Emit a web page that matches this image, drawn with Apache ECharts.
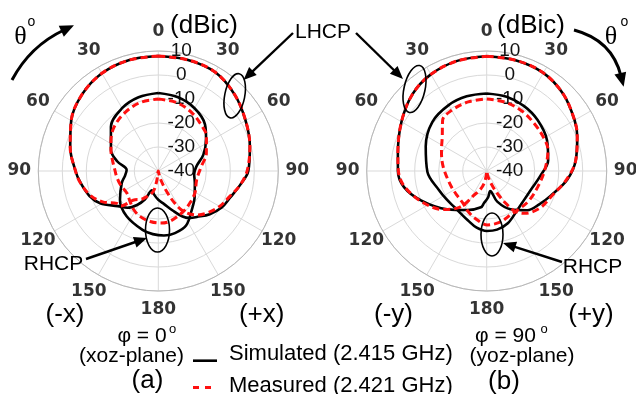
<!DOCTYPE html>
<html>
<head>
<meta charset="utf-8">
<script src="https://cdn.jsdelivr.net/npm/echarts@6/dist/echarts.min.js"></script>
<style>
  html, body { margin: 0; padding: 0; background: #fff; }
  #chart { width: 636px; height: 394px; }
</style>
</head>
<body>
<div id="chart"></div>
<script>
// ---- Axis ticks -------------------------------------------------------
const angleTicks = [0, 30, 60, 90, 120, 150, 180, 210, 240, 270, 300, 330];
const radiusMin = -40, radiusMax = 10, radiusStep = 10;

// ---- (a) xoz-plane, phi = 0 deg ---------------------------------------
// theta measured clockwise from +z; 0..180 on the +x side, 180..360 on the -x side.
// Gains in dBic.
const thA_LHCP_sim  = [0, 15, 30, 45, 60, 75, 90, 100, 110, 120, 130, 140, 146, 152, 160, 170, 180, 190, 198, 205, 212, 220, 229, 241, 250, 262, 270, 285, 300, 315, 330, 345, 360];
const gA_LHCP_sim   = [7.9, 7.9, 7.5, 5.0, 2.0, -0.5, -2.5, -5.5, -8.0, -9.5, -12.0, -15.0, -16.4, -18.5, -22.5, -26.0, -28.0, -30.0, -31.5, -27.0, -23.3, -20.0, -17.7, -12.3, -9.5, -7.1, -5.5, -2.0, 1.9, 5.0, 7.0, 7.8, 7.9];

const thA_LHCP_meas = [0, 15, 30, 45, 60, 75, 90, 100, 110, 120, 130, 139, 148, 153, 158, 165, 172, 180, 189, 194, 204, 212, 219, 227, 232, 241, 250, 262, 270, 285, 300, 315, 330, 345, 360];
const gA_LHCP_meas  = [7.9, 7.9, 7.5, 5.0, 2.0, -0.5, -3.0, -5.5, -8.5, -10.5, -13.0, -15.7, -20.2, -25.0, -31.0, -36.5, -39.5, -40.0, -35.6, -31.2, -28.4, -26.0, -24.6, -18.6, -18.1, -13.5, -10.0, -7.0, -5.5, -2.0, 1.9, 5.0, 7.0, 7.8, 7.9];

const thA_RHCP_sim  = [0, 15, 30, 45, 56, 70, 83, 95, 108, 125, 139, 153, 165, 175, 185, 195, 215, 233, 252, 262, 272, 283, 294, 313, 330, 345, 360];
const gA_RHCP_sim   = [-7.5, -8.2, -9.8, -12.5, -16.0, -20.0, -24.0, -25.0, -24.0, -21.5, -18.7, -14.5, -13.2, -13.0, -13.6, -14.6, -17.0, -20.0, -24.0, -26.0, -26.8, -22.5, -18.4, -13.0, -9.8, -8.2, -7.5];

const thA_RHCP_meas = [0, 15, 30, 45, 54, 70, 84, 103, 121, 135, 148, 167, 178, 189, 202, 213, 223, 235, 250, 262, 270, 287, 294, 303, 315, 330, 345, 360];
const gA_RHCP_meas  = [-10.0, -10.5, -12.0, -14.0, -15.2, -18.7, -22.0, -23.6, -22.2, -21.3, -20.2, -18.5, -18.3, -18.7, -19.6, -21.0, -22.7, -24.0, -23.2, -22.5, -22.0, -19.7, -18.4, -16.5, -14.0, -12.0, -10.5, -10.0];

// ---- (b) yoz-plane, phi = 90 deg --------------------------------------
const thB_LHCP_sim  = [0, 15, 30, 45, 60, 69, 83, 96, 111, 122, 134, 148, 161, 170, 177, 185, 189, 206, 226, 246, 259, 270, 281, 300, 316, 330, 345, 360];
const gB_LHCP_sim   = [7.8, 7.7, 7.2, 5.2, 2.3, 0.4, -2.6, -6.2, -11.4, -14.0, -16.5, -21.2, -26.5, -31.5, -29.0, -26.5, -24.7, -21.9, -17.1, -10.0, -4.9, -3.0, -2.3, 1.0, 4.5, 6.5, 7.5, 7.8];

const thB_LHCP_meas = [0, 15, 30, 45, 60, 69, 83, 96, 111, 125, 138, 145, 150, 155, 160, 168, 180, 186, 192, 200, 208, 213, 218, 228, 243, 259, 270, 281, 300, 316, 330, 345, 360];
const gB_LHCP_meas  = [7.8, 7.7, 7.2, 5.2, 2.3, 0.4, -2.6, -6.5, -11.0, -13.0, -16.3, -19.5, -25.0, -30.0, -34.0, -38.0, -40.0, -38.0, -34.7, -31.5, -28.5, -24.0, -20.5, -16.0, -10.6, -5.2, -3.2, -2.3, 1.0, 4.5, 6.5, 7.5, 7.8];

const thB_RHCP_sim  = [0, 15, 30, 45, 63, 80, 95, 113, 128, 142, 158, 170, 180, 190, 201, 212, 222, 235, 248, 269, 292, 312, 330, 345, 360];
const gB_RHCP_sim   = [-7.7, -8.0, -8.8, -10.0, -11.8, -14.0, -17.5, -20.0, -20.3, -19.3, -16.5, -15.2, -15.0, -16.0, -18.0, -19.3, -19.8, -19.5, -18.6, -15.3, -12.6, -9.5, -8.3, -7.8, -7.7];

const thB_RHCP_meas = [0, 15, 30, 45, 60, 71, 89, 107, 125, 141, 155, 164, 179, 194, 205, 216, 230, 246, 269, 282, 295, 307, 319, 330, 345, 360];
const gB_RHCP_meas  = [-10.0, -10.3, -11.0, -12.0, -12.5, -13.0, -15.8, -17.7, -18.5, -19.2, -19.0, -18.0, -17.5, -19.7, -21.5, -23.3, -24.0, -23.9, -22.5, -21.0, -19.2, -16.8, -12.0, -10.8, -10.2, -10.0];

// ---- Styling ----------------------------------------------------------
const SANS = '"Liberation Sans", Arial, sans-serif';
const BOLD = '"DejaVu Sans", sans-serif';
const SERIF = '"Liberation Serif", "Times New Roman", serif';
const CENTERS = [[158.3, 171], [486.7, 171]];
const PLOT_R = 120;
const LABEL_R = 139;
const GRID = '#d9d9d9';

const angleLabel = v => String(v <= 180 ? v : 360 - v);

function plotAngleAxis(idx) {
  return {
    polarIndex: idx, type: 'value', min: 0, max: 360, interval: 30,
    startAngle: 90, clockwise: true,
    axisLine: { lineStyle: { color: '#b8b8b8', width: 1 } },
    axisTick: { show: false }, axisLabel: { show: false },
    splitLine: { lineStyle: { color: GRID, width: 1 } }
  };
}
function plotRadiusAxis(idx) {
  return {
    polarIndex: idx, type: 'value', min: radiusMin, max: radiusMax, interval: radiusStep,
    axisLine: { show: false }, axisTick: { show: false },
    splitLine: { lineStyle: { color: GRID, width: 1 } },
    axisLabel: {
      margin: -23, align: 'center', verticalAlign: 'middle',
      fontFamily: SANS, fontSize: 19, color: '#111',
      showMinLabel: true, showMaxLabel: true
    }
  };
}
function ringAngleAxis(idx) {
  return { polarIndex: idx, type: 'value', min: 0, max: 360, startAngle: 90, clockwise: true, show: false };
}
function ringRadiusAxis(idx) {
  return { polarIndex: idx, type: 'value', min: 0, max: 1, show: false };
}

function curve(polarIndex, name, th, g, measured) {
  return {
    type: 'line', name, coordinateSystem: 'polar', polarIndex,
    data: th.map((a, k) => [g[k], a]),
    symbol: 'none', smooth: 0.35, clip: false, animation: false,
    lineStyle: measured
      ? { color: '#ff1010', width: 3, type: [7, 4] }
      : { color: '#000', width: 2.6 },
    z: measured ? 4 : 3
  };
}
function tickRing(polarIndex) {
  return {
    type: 'scatter', coordinateSystem: 'polar', polarIndex, silent: true, animation: false,
    data: angleTicks.map(a => [1, a]),
    symbol: 'circle', symbolSize: 1, itemStyle: { color: 'rgba(0,0,0,0)' },
    label: {
      show: true, position: 'inside', formatter: p => angleLabel(p.value[1]),
      fontFamily: BOLD, fontWeight: 'bold', fontSize: 17, color: '#000'
    }
  };
}

// ---- Annotation helpers ----------------------------------------------
function arrowHead(tip, from, len, half) {
  const dx = tip[0] - from[0], dy = tip[1] - from[1];
  const L = Math.hypot(dx, dy), ux = dx / L, uy = dy / L;
  const bx = tip[0] - ux * len, by = tip[1] - uy * len;
  return {
    type: 'polygon', z: 20,
    shape: { points: [tip, [bx - uy * half, by + ux * half], [bx + uy * half, by - ux * half]] },
    style: { fill: '#000' }
  };
}
function straightArrow(from, tip) {
  const dx = tip[0] - from[0], dy = tip[1] - from[1];
  const L = Math.hypot(dx, dy);
  const end = [tip[0] - dx / L * 10, tip[1] - dy / L * 10];
  return [
    { type: 'line', z: 20, shape: { x1: from[0], y1: from[1], x2: end[0], y2: end[1] }, style: { stroke: '#000', lineWidth: 2.4 } },
    arrowHead(tip, from, 13, 5.5)
  ];
}
function curvedArrow(p0, cp, p1) {
  const dx = p1[0] - cp[0], dy = p1[1] - cp[1];
  const L = Math.hypot(dx, dy);
  const tip = [p1[0] + dx / L * 11, p1[1] + dy / L * 11];
  return [
    { type: 'bezierCurve', z: 20, shape: { x1: p0[0], y1: p0[1], cpx1: cp[0], cpy1: cp[1], x2: p1[0], y2: p1[1] }, style: { stroke: '#000', lineWidth: 3, fill: null } },
    arrowHead(tip, p1, 14, 6)
  ];
}
function ellipse(cx, cy, rx, ry, rot) {
  return { type: 'ellipse', z: 20, x: cx, y: cy, rotation: rot || 0, shape: { cx: 0, cy: 0, rx, ry }, style: { stroke: '#000', lineWidth: 1.6, fill: null } };
}
function text(str, x, y, size, opts) {
  const o = opts || {};
  return {
    type: 'text', z: 20, x, y,
    style: {
      text: str, fill: '#000', align: o.align || 'center', verticalAlign: 'middle',
      font: (o.weight || 'normal') + ' ' + size + 'px ' + (o.family || SANS)
    }
  };
}

const graphics = [].concat(
  // panel (a)
  text('(dBic)', 204, 26, 26),
  text('\u03b8', 20.5, 37, 26, { family: SERIF }),
  text('o', 31.5, 22, 14),
  curvedArrow([12, 80], [30, 46], [64, 30]),
  text('(-x)', 65, 314.5, 26),
  text('(+x)', 261.7, 314.5, 26),
  text('\u03c6 = 0', 142, 336, 21),
  text('o', 172.5, 329, 13),
  text('(xoz-plane)', 131.5, 356.5, 21),
  text('(a)', 147.5, 381, 26),
  text('RHCP', 53.5, 264, 21),
  straightArrow([86, 259], [147, 238]),
  ellipse(157.5, 230, 12, 22, 0),
  ellipse(234.7, 95.8, 10, 22.5, -0.2),
  // shared LHCP callout
  text('LHCP', 323, 32, 21),
  straightArrow([293, 33], [243.5, 80]),
  straightArrow([356, 33], [403, 79]),
  // panel (b)
  text('(dBic)', 531, 26, 26),
  text('\u03b8', 611, 37, 26, { family: SERIF }),
  text('o', 624.5, 22.5, 14),
  curvedArrow([574, 30], [612, 40], [621, 76]),
  text('(-y)', 393.5, 314.5, 26),
  text('(+y)', 591, 314.5, 26),
  text('\u03c6 = 90', 505.5, 336, 21),
  text('o', 544, 329, 13),
  text('(yoz-plane)', 522, 356.5, 21),
  text('(b)', 504, 382, 26),
  text('RHCP', 592.5, 267, 21),
  straightArrow([562, 262], [503, 243]),
  ellipse(492, 234.5, 11, 21.5, 0),
  ellipse(414.5, 89, 10.5, 24, -0.22),
  // legend
  { type: 'line', z: 20, shape: { x1: 193, y1: 360.7, x2: 217, y2: 360.7 }, style: { stroke: '#000', lineWidth: 2.6 } },
  text('Simulated (2.415 GHz)', 229, 354, 22, { align: 'left' }),
  { type: 'line', z: 20, shape: { x1: 193, y1: 387.5, x2: 211, y2: 387.5 }, style: { stroke: '#ff1010', lineWidth: 3, lineDash: [6, 6] } },
  text('Measured (2.421 GHz)', 229, 385.5, 22, { align: 'left' })
);

const chart = echarts.init(document.getElementById('chart'), null, { renderer: 'canvas' });
chart.setOption({
  backgroundColor: '#fff',
  animation: false,
  polar: [
    { center: CENTERS[0], radius: PLOT_R },
    { center: CENTERS[1], radius: PLOT_R },
    { center: CENTERS[0], radius: LABEL_R },
    { center: CENTERS[1], radius: LABEL_R }
  ],
  angleAxis: [plotAngleAxis(0), plotAngleAxis(1), ringAngleAxis(2), ringAngleAxis(3)],
  radiusAxis: [plotRadiusAxis(0), plotRadiusAxis(1), ringRadiusAxis(2), ringRadiusAxis(3)],
  series: [
    curve(0, 'LHCP simulated (a)', thA_LHCP_sim, gA_LHCP_sim, false),
    curve(0, 'RHCP simulated (a)', thA_RHCP_sim, gA_RHCP_sim, false),
    curve(0, 'LHCP measured (a)', thA_LHCP_meas, gA_LHCP_meas, true),
    curve(0, 'RHCP measured (a)', thA_RHCP_meas, gA_RHCP_meas, true),
    curve(1, 'LHCP simulated (b)', thB_LHCP_sim, gB_LHCP_sim, false),
    curve(1, 'RHCP simulated (b)', thB_RHCP_sim, gB_RHCP_sim, false),
    curve(1, 'LHCP measured (b)', thB_LHCP_meas, gB_LHCP_meas, true),
    curve(1, 'RHCP measured (b)', thB_RHCP_meas, gB_RHCP_meas, true),
    tickRing(2),
    tickRing(3)
  ],
  graphic: graphics
});
</script>
</body>
</html>
